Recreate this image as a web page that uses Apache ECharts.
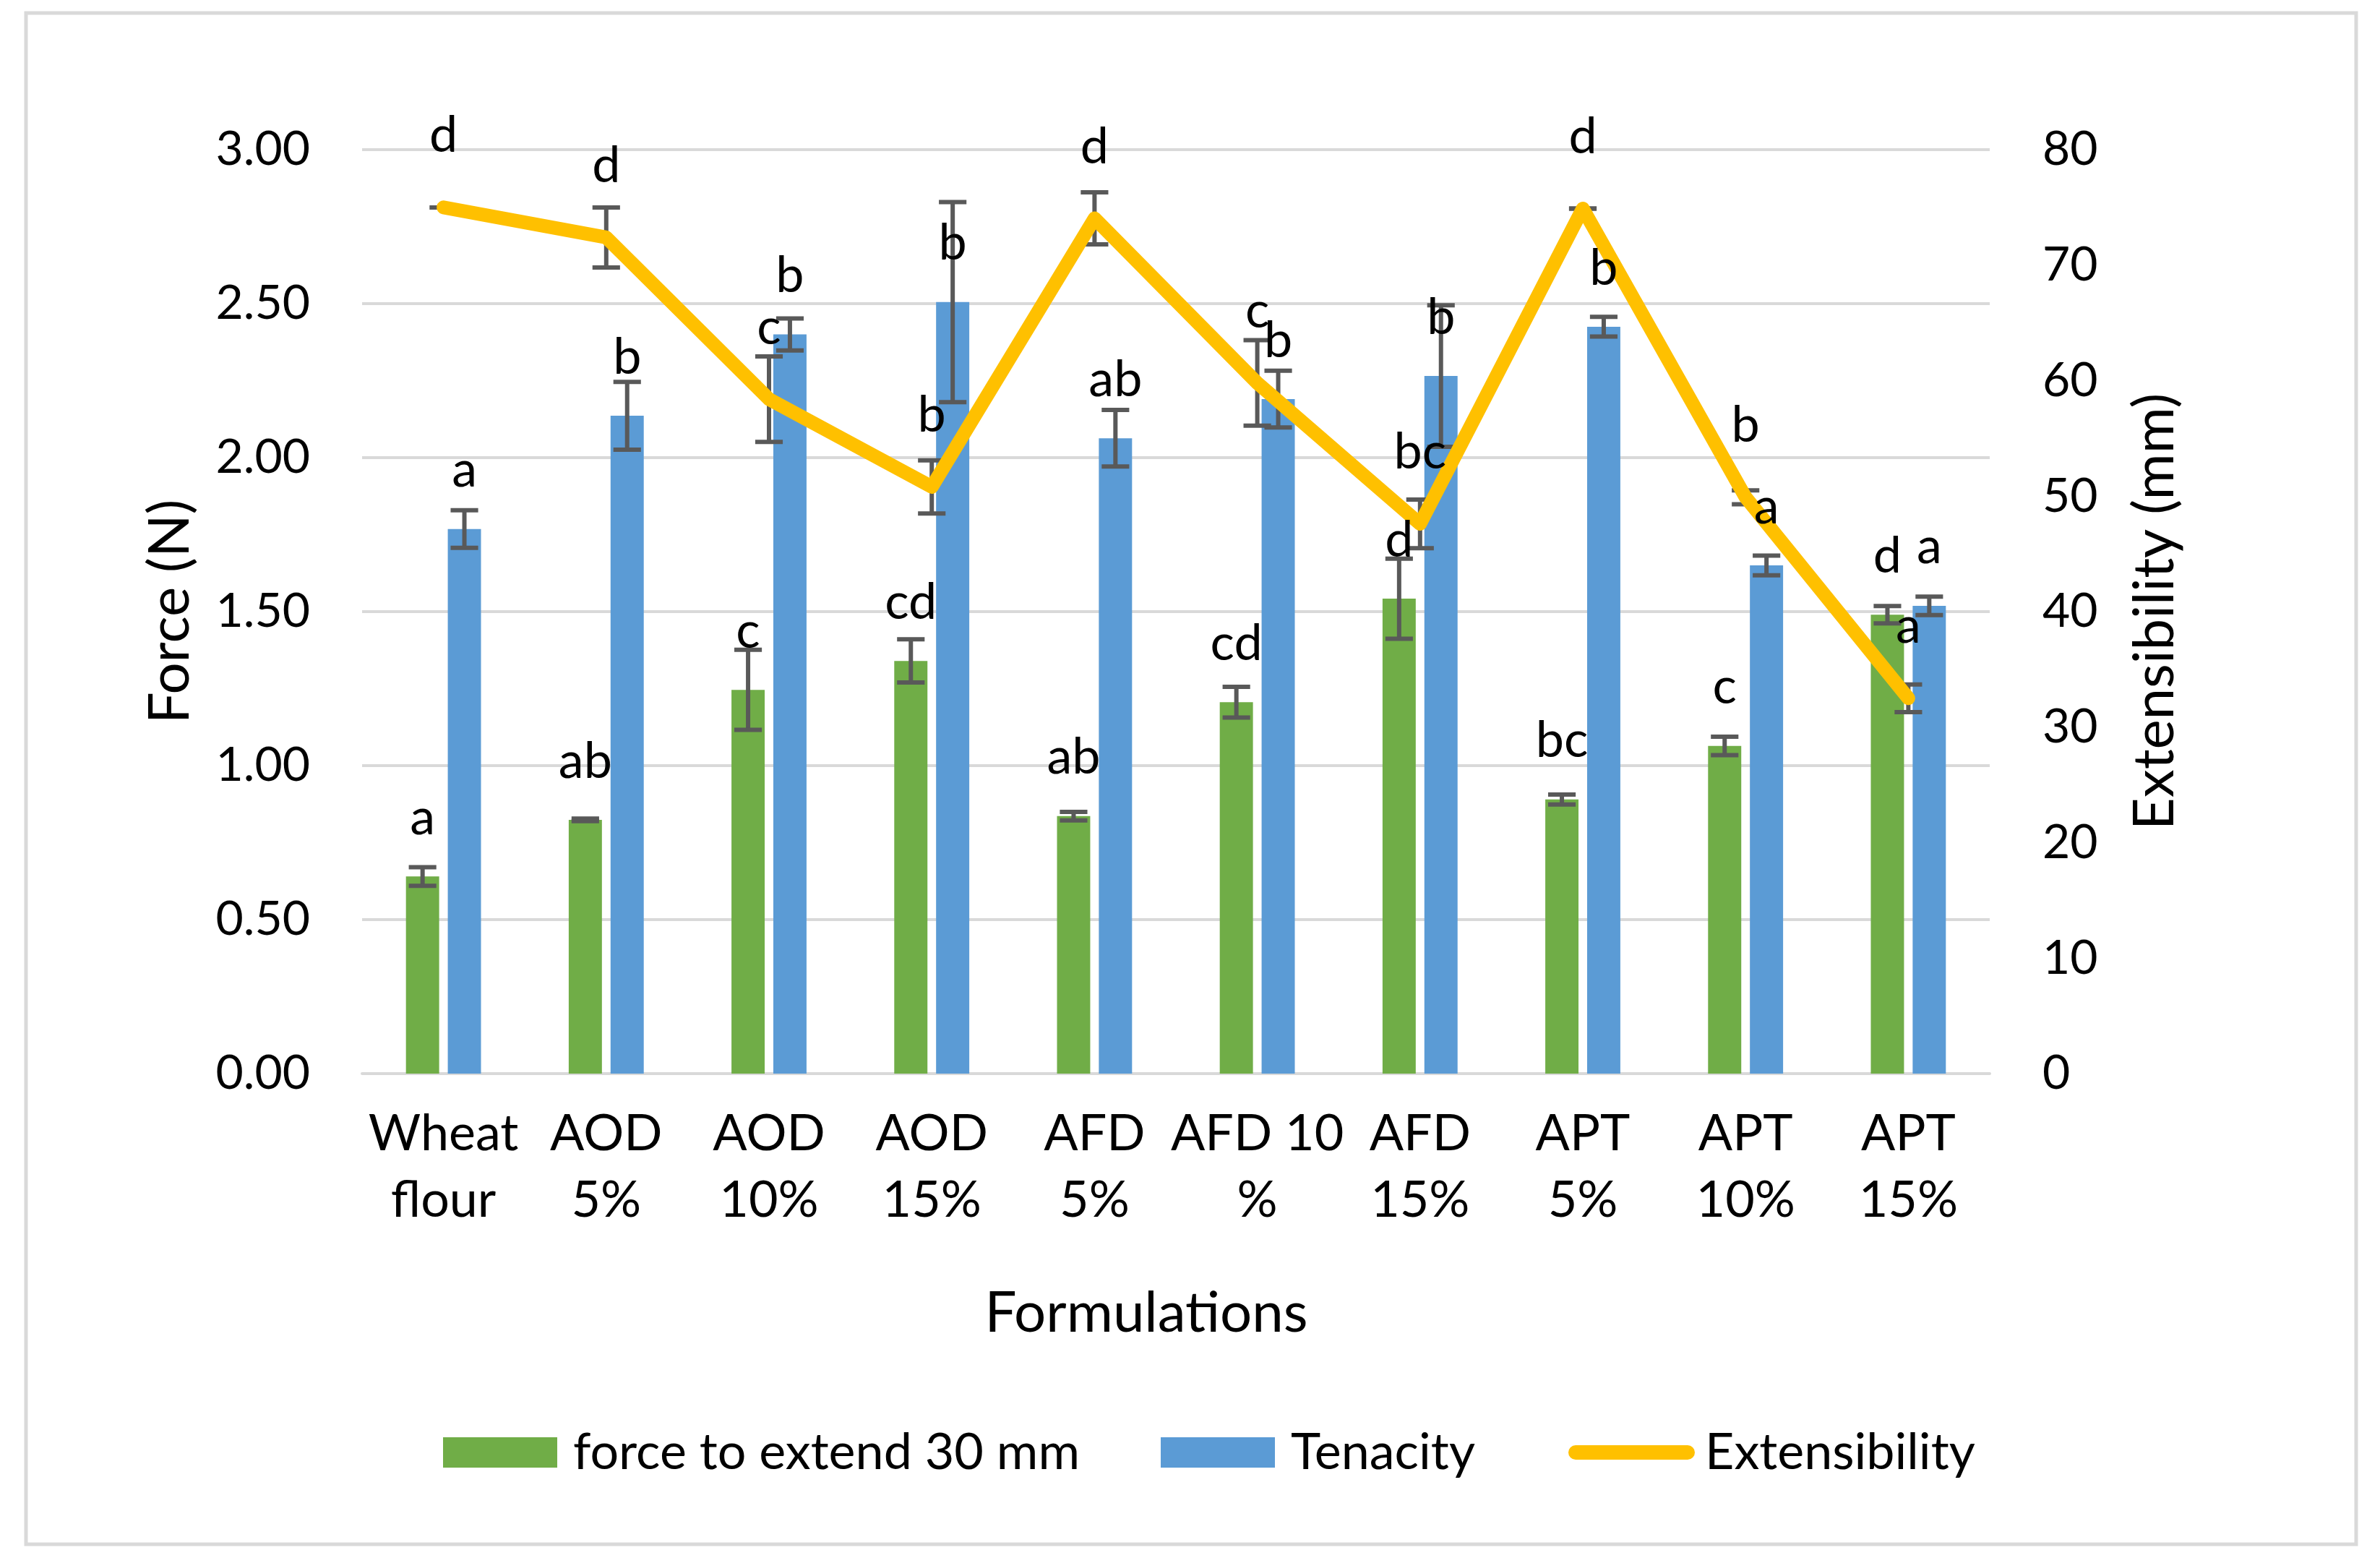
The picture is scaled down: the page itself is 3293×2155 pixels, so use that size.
<!DOCTYPE html>
<html><head><meta charset="utf-8">
<script src="https://cdn.jsdelivr.net/npm/echarts@6/dist/echarts.min.js"></script>
<style>html,body{margin:0;padding:0;background:#fff}#c{width:3293px;height:2155px}</style>
</head><body><div id="c"></div>
<script>
// ---- data ----
const categories = ['Wheat\nflour','AOD\n5%','AOD\n10%','AOD\n15%','AFD\n5%','AFD 10\n%','AFD\n15%','APT\n5%','APT\n10%','APT\n15%'];
const forceValues   = [0.64, 0.824, 1.246, 1.34, 0.836, 1.206, 1.542, 0.89, 1.064, 1.49];
const forceErrors   = [0.03, 0.004, 0.13, 0.07, 0.014, 0.05, 0.13, 0.016, 0.03, 0.028];
const forceLetters  = ['a','ab','c','cd','ab','cd','d','bc','c','d'];
const tenacityValues  = [1.768, 2.136, 2.40, 2.505, 2.063, 2.19, 2.265, 2.425, 1.65, 1.519];
const tenacityErrors  = [0.061, 0.11, 0.052, 0.325, 0.092, 0.092, 0.23, 0.032, 0.032, 0.03];
const tenacityLetters = ['a','b','b','b','ab','b','b','b','a','a'];
const extValues  = [75.0, 72.4, 58.4, 50.8, 74.05, 59.8, 47.6, 74.9, 49.9, 32.5];
const extErrors  = [0, 2.6, 3.7, 2.3, 2.25, 3.7, 2.1, 0, 0.6, 1.2];
const extLetters = ['d','d','c','b','d','c','bc','d','b','a'];
const forceTicks = [0, 0.5, 1.0, 1.5, 2.0, 2.5, 3.0];
const extTicks   = [0, 10, 20, 30, 40, 50, 60, 70, 80];

// ---- style constants ----
const FONT = 'Lato';
const BAR_FRAC = 0.204, GAP_FRAC = 0.26, CAP_FRAC = 0.83;
const GREEN = '#70AD47', BLUE = '#5B9BD5', GOLD = '#FFC000', ERR = '#595959', GRID = '#D9D9D9';
const LEGEND_TOP = 1969;

function errorSeries(values, errors, yAxisIndex, side, z) {
  return {
    type: 'custom', yAxisIndex: yAxisIndex, z: z, silent: true,
    data: values.map((v, i) => [i, v, errors[i]]),
    encode: { x: 0, y: 1 },
    renderItem: function (params, api) {
      const i = api.value(0), v = api.value(1), e = api.value(2);
      const band = api.size([1, 0])[0];
      const bw = band * BAR_FRAC, gap = bw * GAP_FRAC;
      const x = api.coord([i, v])[0] + side * (bw + gap) / 2;
      const yT = api.coord([i, v + e])[1], yB = api.coord([i, v - e])[1];
      const hw = bw * CAP_FRAC / 2;
      const st = { stroke: ERR, lineWidth: 6 };
      return { type: 'group', children: [
        { type: 'line', shape: { x1: x, y1: yT, x2: x, y2: yB }, style: st },
        { type: 'line', shape: { x1: x - hw, y1: yT, x2: x + hw, y2: yT }, style: st },
        { type: 'line', shape: { x1: x - hw, y1: yB, x2: x + hw, y2: yB }, style: st }
      ]};
    }
  };
}
function labelSeries(values, letters, yAxisIndex, side, lift, z) {
  return {
    type: 'custom', yAxisIndex: yAxisIndex, z: z, silent: true,
    data: values.map((v, i) => [i, v]),
    encode: { x: 0, y: 1 },
    renderItem: function (params, api) {
      const i = api.value(0), v = api.value(1);
      const band = api.size([1, 0])[0];
      const bw = band * BAR_FRAC, gap = bw * GAP_FRAC;
      const p = api.coord([i, v]);
      return { type: 'text', x: p[0] + side * (bw + gap) / 2, y: p[1] - lift,
        style: { text: letters[params.dataIndex], fill: '#000', fontSize: 70, fontFamily: FONT,
                 align: 'center', verticalAlign: 'bottom' } };
    }
  };
}

const chart = echarts.init(document.getElementById('c'));
const legendText = { fontSize: 70, fontFamily: FONT, color: '#000', lineHeight: 42, padding: [0, 0, 0, 17] };
const capsule = 'path://M10,0 L165,0 A10,10 0 0 1 165,20 L10,20 A10,10 0 0 1 10,0 Z';
chart.setOption({
  animation: false,
  backgroundColor: '#fff',
  graphic: [{ type: 'rect', shape: { x: 36, y: 18, width: 3224, height: 2118 },
              style: { fill: 'none', stroke: GRID, lineWidth: 5 }, silent: true }],
  grid: { left: 501, right: 540, top: 207, bottom: 670, outerBoundsMode: 'none' },
  legend: [
    { left: 608, top: LEGEND_TOP, itemWidth: 158, itemHeight: 42, textStyle: legendText, data: [{ name: 'force to extend 30 mm', icon: 'rect' }] },
    { left: 1601, top: LEGEND_TOP, itemWidth: 158, itemHeight: 42, textStyle: legendText, data: [{ name: 'Tenacity', icon: 'rect' }] },
    { left: 2165, top: LEGEND_TOP, itemWidth: 175, itemHeight: 20,
      textStyle: Object.assign({}, legendText, { padding: [0, 0, 0, 9] }),
      itemStyle: { color: GOLD }, lineStyle: { width: 0 },
      data: [{ name: 'Extensibility', icon: capsule }] }
  ],
  xAxis: {
    type: 'category', data: categories,
    axisLine: { lineStyle: { color: GRID, width: 4 } }, axisTick: { show: false },
    axisLabel: { interval: 0, fontSize: 70, lineHeight: 92, margin: 37, color: '#000', fontFamily: FONT },
    name: 'Formulations', nameLocation: 'middle', nameGap: 293,
    nameTextStyle: { fontSize: 78, color: '#000', fontFamily: FONT, padding: [0, 82, 0, 0] }
  },
  yAxis: [
    { type: 'value', min: forceTicks[0], max: forceTicks[forceTicks.length - 1], interval: forceTicks[1] - forceTicks[0],
      axisLine: { show: false }, axisTick: { show: false },
      splitLine: { lineStyle: { color: GRID, width: 4 } },
      axisLabel: { fontSize: 66, margin: 72, color: '#000', fontFamily: FONT, formatter: v => v.toFixed(2) },
      name: 'Force (N)', nameLocation: 'middle', nameGap: 226,
      nameTextStyle: { fontSize: 78, color: '#000', fontFamily: FONT } },
    { type: 'value', min: extTicks[0], max: extTicks[extTicks.length - 1], interval: extTicks[1] - extTicks[0],
      axisLine: { show: false }, axisTick: { show: false }, splitLine: { show: false },
      axisLabel: { fontSize: 66, margin: 73, color: '#000', fontFamily: FONT },
      name: 'Extensibility (mm)', nameLocation: 'middle', nameGap: 190,
      nameTextStyle: { fontSize: 78, color: '#000', fontFamily: FONT } }
  ],
  series: [
    { name: 'force to extend 30 mm', type: 'bar', data: forceValues, barWidth: (BAR_FRAC * 100) + '%', barGap: (GAP_FRAC * 100) + '%',
      itemStyle: { color: GREEN }, z: 2 },
    { name: 'Tenacity', type: 'bar', data: tenacityValues, barWidth: (BAR_FRAC * 100) + '%', barGap: (GAP_FRAC * 100) + '%',
      itemStyle: { color: BLUE }, z: 2 },
    { name: 'Extensibility', type: 'line', yAxisIndex: 1, data: extValues, symbol: 'none', z: 5,
      lineStyle: { color: GOLD, width: 19, cap: 'round', join: 'round' }, itemStyle: { color: GOLD } },
    errorSeries(forceValues, forceErrors, 0, -1, 3),
    errorSeries(tenacityValues, tenacityErrors, 0, 1, 3),
    errorSeries(extValues, extErrors, 1, 0, 4),
    labelSeries(forceValues, forceLetters, 0, -1, 46, 8),
    labelSeries(tenacityValues, tenacityLetters, 0, 1, 46, 8),
    labelSeries(extValues, extLetters, 1, 0, 64, 8)
  ]
});
</script></body></html>
